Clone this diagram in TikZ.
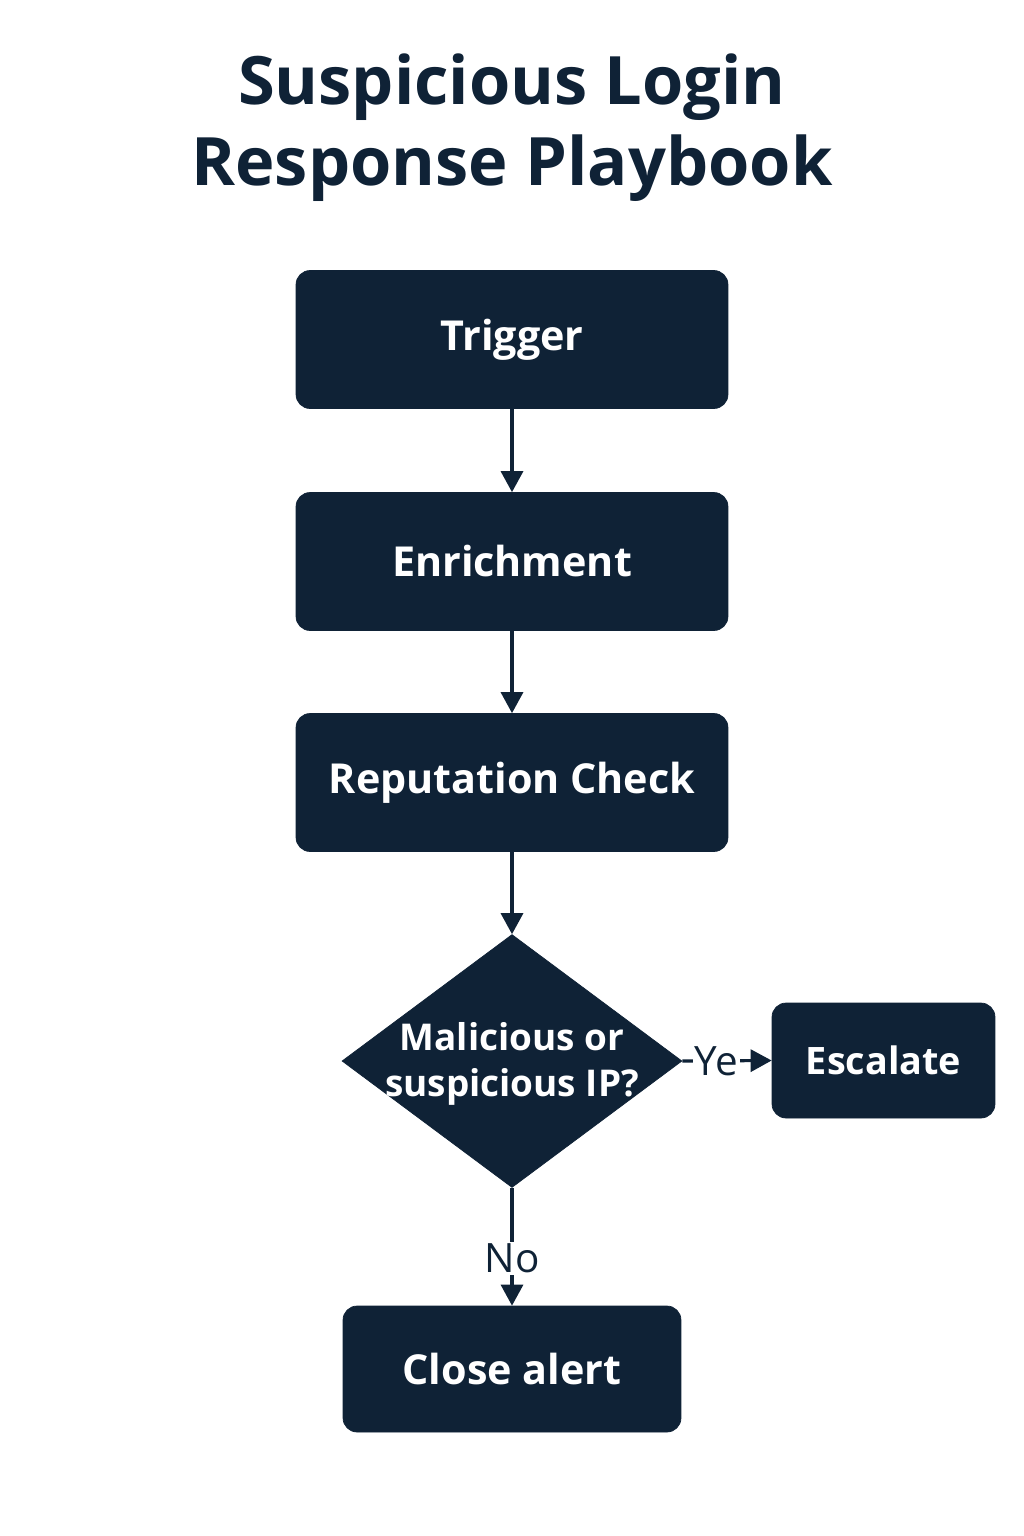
\documentclass[tikz,border=0pt]{standalone}
\usepackage{fontspec}
\setmainfont{Open Sans}
\usetikzlibrary{shapes.geometric,arrows.meta}
\definecolor{navy}{RGB}{15,34,54}
\tikzset{
  stepbox/.style={draw=navy,fill=navy,rounded corners=0.28cm,text=white,font=\fontsize{23.5}{28}\selectfont\bfseries,minimum width=8.64cm,minimum height=2.76cm},
  decision/.style={diamond,draw=navy,fill=navy,inner sep=0pt,minimum width=6.8cm,minimum height=5.06cm},
  flow/.style={navy,line width=1.8pt,-{Triangle[length=0.42cm,width=0.44cm]}},
  edgelabel/.style={fill=white,text=navy,inner sep=1pt,font=\fontsize{23}{27}\selectfont}
}
\begin{document}
\begin{tikzpicture}[x=0.02cm,y=-0.02cm]
	\useasboundingbox (0,0) rectangle (1024,1536);
	% title
	\node (title) at (512,128) [text=navy,align=center,font=\fontsize{38}{46}\selectfont\bfseries]{Suspicious Login\\Response Playbook};
	% main steps
	\node (trigger) at (512,339.5) [stepbox]{Trigger};
	\node (enrich) at (512,561.5) [stepbox]{Enrichment};
	\node (rep) at (512,782.5) [stepbox]{Reputation Check};
	\node (ip) at (512,1061) [decision]{};
	\node (iptext) at (512,1064) [text=white,align=center,font=\fontsize{21}{26}\selectfont\bfseries]{Malicious or\\suspicious IP?};
	\node (esc) at (883.5,1060.5) [stepbox,minimum width=4.46cm,minimum height=2.3cm,font=\fontsize{21.5}{26}\selectfont\bfseries]{Escalate};
	\node (close) at (512,1369) [stepbox,minimum width=6.76cm,minimum height=2.52cm]{Close alert};
	% arrows
	\draw [flow] (trigger) -- (enrich);
	\draw [flow] (enrich) -- (rep);
	\draw [flow] (rep) -- (ip.north);
	\draw [flow] (ip.east) -- node[edgelabel,pos=0.38]{Ye} (esc.west);
	\draw [flow] (ip.south) -- node[edgelabel,pos=0.6]{No} (close.north);
\end{tikzpicture}
\end{document}
